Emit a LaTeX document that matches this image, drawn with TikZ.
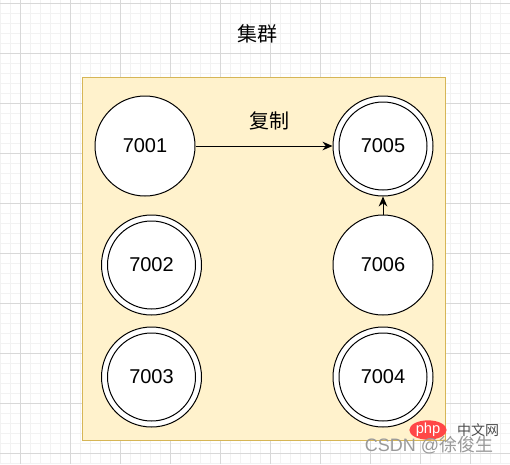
\documentclass[tikz,border=0pt]{standalone}
\usepackage{fontspec}
\setmainfont{Liberation Sans}
\newfontfamily\cjk{Noto Sans CJK SC}
\usetikzlibrary{arrows.meta,shapes.geometric}
\definecolor{gridminor}{HTML}{F2F2F2}
\definecolor{gridmajor}{HTML}{D8D8D8}
\definecolor{boxfill}{HTML}{FFF2CC}
\definecolor{boxdraw}{HTML}{D6B656}
\tikzset{
  nodecirc/.style={circle, draw=black, fill=white, line width=0.75pt, minimum size=75pt, inner sep=0pt, font=\fontsize{15}{18}\selectfont},
  innerring/.style={line width=0.75pt, draw=black},
  conn/.style={line width=0.75pt, -{Stealth[length=7.5pt,width=6.5pt]}},
  cjktext/.style={font=\cjk\fontsize{15}{18}\selectfont}
}
\begin{document}
\begin{tikzpicture}[x=0.75pt,y=-0.75pt]
\useasboundingbox (0,0) rectangle (510,464);
\fill[white] (0,0) rectangle (510,464);
% grid
\foreach \gx in {0,10,...,510} \draw[gridminor, line width=0.6pt] (\gx,0) -- (\gx,464);
\foreach \gy in {3,13,...,463} \draw[gridminor, line width=0.6pt] (0,\gy) -- (510,\gy);
\foreach \gx in {20,70,...,470} \draw[gridmajor, line width=0.75pt] (\gx,0) -- (\gx,464);
\foreach \gy in {3,53,...,453} \draw[gridmajor, line width=0.75pt] (0,\gy) -- (510,\gy);
% cluster box
\draw[fill=boxfill, draw=boxdraw, line width=0.75pt] (82.5,77.5) rectangle (445,440);
\node[cjktext] (title) at (257,34) {集群};
% nodes
\node[nodecirc] (n7001) at (145,146) {7001};
\node[nodecirc] (n7005) at (383,146) {7005};
\node[nodecirc] (n7002) at (151.5,265) {7002};
\node[nodecirc] (n7006) at (383,265) {7006};
\node[nodecirc] (n7003) at (151.5,377) {7003};
\node[nodecirc] (n7004) at (383,377) {7004};
\foreach \n in {n7005,n7002,n7003,n7004}
  \draw[innerring] (\n.center) circle[radius=33pt];
% connectors
\draw[conn] (n7001) -- (n7005);
\draw[conn] (n7006) -- (n7005);
\node[cjktext] (lbl) at (269,121) {复制};
% watermark
\node[ellipse, fill=red!72!white, minimum width=28pt, minimum height=12pt, inner sep=0pt, font=\fontsize{11}{12}\selectfont, text=white] (php) at (428,430) {php};
\node[font=\cjk\fontsize{10.5}{12}\selectfont, text=black!70] (cn) at (478,430) {中文网};
\node[font=\fontsize{13.5}{15}\selectfont, text=black!40] (csdn) at (429,445) {CSDN @{\cjk 徐俊生}};
\end{tikzpicture}
\end{document}
